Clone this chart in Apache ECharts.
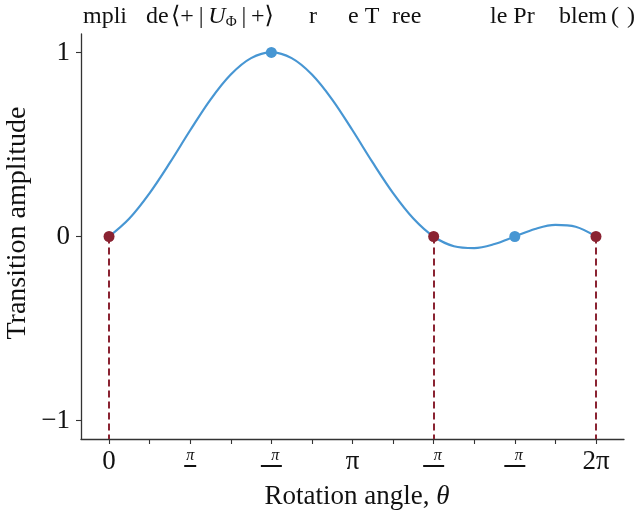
<!DOCTYPE html>
<html>
<head>
<meta charset="utf-8">
<script src="https://cdn.jsdelivr.net/npm/echarts@6/dist/echarts.min.js"></script>
<style>html,body{margin:0;padding:0;background:#fff;}#c{width:634px;height:519px;}</style>
</head>
<body>
<div id="c"></div>
<script>
const PI = Math.PI;
const thetaVals = [0, 0.2618, 0.5236, 0.7854, 1.0472, 1.3090, 1.5708, 1.8326, 2.0944,
  2.3562, 2.6180, 2.8798, 3.1416, 3.4034, 3.6652, 3.9270, 4.1888,
  4.4506, 4.7124, 4.9742, 5.2360, 5.4978, 5.7596, 6.0214, 6.2832];
const ampVals = [0, 0.098, 0.236, 0.401, 0.577, 0.744, 0.880, 0.969, 1.0,
  0.969, 0.880, 0.744, 0.577, 0.401, 0.236, 0.098, 0,
  -0.053, -0.063, -0.041, 0, 0.041, 0.063, 0.053, 0];
const redTheta = [0, 4 * PI / 3, 2 * PI];
const redAmp = [0, 0, 0];
const blueTheta = [2 * PI / 3, 5 * PI / 3];
const blueAmp = [1, 0];
const xTickPositions = [0, PI/6, 2*PI/6, 3*PI/6, 4*PI/6, 5*PI/6, PI, 7*PI/6, 8*PI/6, 9*PI/6, 10*PI/6, 11*PI/6, 2*PI];
const xLabelPositions = [0, PI/3, 2*PI/3, PI, 4*PI/3, 5*PI/3, 2*PI];
const xTickLabels = ['{big|0}', '{n1|π}\n{bar1| }', '{n2|π}\n{bar2| }', '{big|π}', '{n2|π}\n{bar2| }', '{n2|π}\n{bar2| }', '{big|2π}'];
const yTickPositions = [-1, 0, 1];
const yTickLabels = ['−1', '0', '1'];
const titleParts = ['mpli', 'de', '⟨+\u2009|\u2009{u|U}{sub|Φ}\u2009|\u2009+⟩', 'r', 'e T', 'ree', 'le Pr', 'blem', '(', ')'];
const xTitle = 'Rotation angle, {i|θ}';
const yTitle = 'Transition amplitude';

const FONT = '"Liberation Serif", "DejaVu Serif", serif';
const BLUE = '#4796d3';
const RED = '#8a2332';
const AXIS = '#333333';

const titleX = [83, 146, 171, 309, 348, 392, 490, 559, 611, 627];

const chart = echarts.init(document.getElementById('c'), null, {renderer: 'canvas'});

const stemLines = redTheta.map((t, i) => [{coord: [t, redAmp[i]]}, {coord: [t, -1.1]}]);

chart.setOption({
  animation: false,
  backgroundColor: '#fff',
  grid: {left: 81, right: 10, top: 34, bottom: 80},
  xAxis: {
    type: 'value', min: -0.362, max: 6.645,
    axisLine: {show: true, onZero: false, lineStyle: {color: AXIS, width: 1.3}},
    axisTick: {show: true, length: 5, customValues: xTickPositions, lineStyle: {color: AXIS, width: 1.1}},
    axisLabel: {
      customValues: xLabelPositions,
      margin: 8,
      fontFamily: FONT, color: '#111',
      formatter: function (v) {
        let best = 0;
        xLabelPositions.forEach((p, i) => { if (Math.abs(p - v) < Math.abs(xLabelPositions[best] - v)) best = i; });
        return xTickLabels[best];
      },
      rich: {
        big: {fontSize: 27, lineHeight: 30, fontFamily: FONT, color: '#111'},
        n1: {fontSize: 16, lineHeight: 18, fontFamily: FONT, color: '#111', fontStyle: 'italic'},
        n2: {fontSize: 16, lineHeight: 18, fontFamily: FONT, color: '#111', fontStyle: 'italic', padding: [0, 0, 0, 8]},
        bar1: {width: 12, height: 2, lineHeight: 2, backgroundColor: '#111', fontSize: 1},
        bar2: {width: 21, height: 2, lineHeight: 2, backgroundColor: '#111', fontSize: 1}
      }
    },
    splitLine: {show: false}
  },
  yAxis: {
    type: 'value', min: -1.1, max: 1.1,
    axisLine: {show: true, onZero: false, lineStyle: {color: AXIS, width: 1.3}},
    axisTick: {show: true, length: 5, customValues: yTickPositions, lineStyle: {color: AXIS, width: 1.1}},
    axisLabel: {
      customValues: yTickPositions,
      margin: 11,
      fontFamily: FONT, fontSize: 27, color: '#111',
      formatter: function (v) {
        const i = yTickPositions.findIndex(p => Math.abs(p - v) < 1e-6);
        return i >= 0 ? yTickLabels[i] : '';
      }
    },
    splitLine: {show: false}
  },
  series: [
    {
      type: 'line', data: thetaVals.map((t, i) => [t, ampVals[i]]),
      smooth: 0.35, showSymbol: false, lineStyle: {color: BLUE, width: 2.2}, z: 2,
      markLine: {
        silent: true, symbol: ['none', 'none'], label: {show: false},
        lineStyle: {color: RED, width: 2, type: [7, 4], opacity: 1},
        data: stemLines
      }
    },
    {
      type: 'scatter', data: redTheta.map((t, i) => [t, redAmp[i]]),
      symbolSize: 11, itemStyle: {color: RED, opacity: 1}, z: 4
    },
    {
      type: 'scatter', data: blueTheta.map((t, i) => [t, blueAmp[i]]),
      symbolSize: 11, itemStyle: {color: BLUE, opacity: 1}, z: 4
    }
  ],
  graphic: [].concat(
    titleParts.map((s, i) => ({
      type: 'text', left: titleX[i], top: 5,
      style: {
        text: s, font: '24px ' + FONT, fill: '#111',
        rich: {
          u: {fontStyle: 'italic', fontSize: 24, fontFamily: FONT, fill: '#111'},
          sub: {fontSize: 15, fontFamily: FONT, padding: [10, 0, 0, 0], fill: '#111'}
        }
      }
    })),
    [{
      type: 'text', x: 357, y: 497,
      style: {
        text: xTitle, font: '27px ' + FONT, fill: '#111', align: 'center', verticalAlign: 'middle',
        rich: {i: {fontStyle: 'italic', fontSize: 27, fontFamily: FONT, fill: '#111'}}
      }
    }, {
      type: 'text', x: 18, y: 223, rotation: PI / 2,
      style: {text: yTitle, font: '28px ' + FONT, fill: '#111', align: 'center', verticalAlign: 'middle'}
    }]
  )
});
</script>
</body>
</html>
